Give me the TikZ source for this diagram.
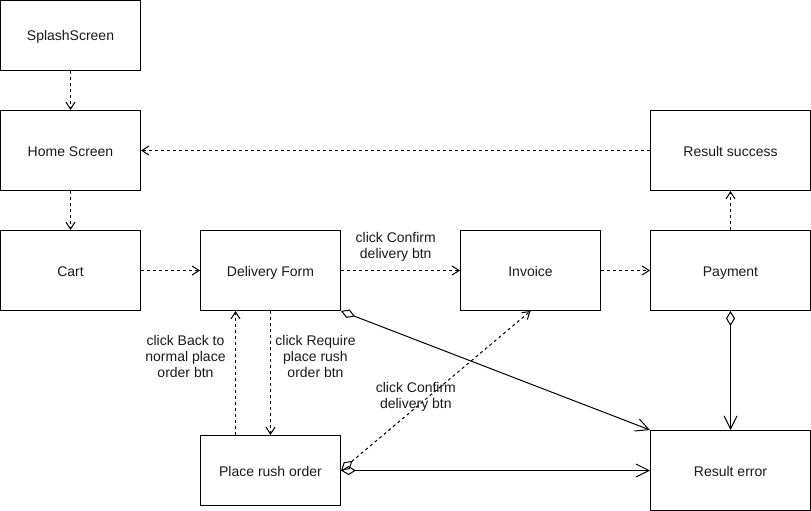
\documentclass[tikz,border=0pt]{standalone}
\usepackage{fontspec}
\setmainfont{Liberation Sans}
\usetikzlibrary{arrows.meta}
\begin{document}
\begin{tikzpicture}[x=1pt,y=-1pt,
  every node/.style={font=\fontsize{14}{16}\selectfont, text=black!90},
  box/.style={draw, line width=1pt, rectangle, inner sep=0pt, align=center, minimum width=#1,
    text height=12pt, text depth=1pt},
  box/.default=140pt,
  dep/.style={draw, line width=1pt, dash pattern=on 3pt off 3pt,
    -{Straight Barb[length=7pt,width=9pt,line width=1pt]}},
  agg/.style={draw, line width=1pt,
    {Diamond[open,length=15pt,width=9pt,line width=1pt]}-{Straight Barb[length=13pt,width=13pt,line width=1pt]}},
  aggdep/.style={draw, line width=1pt, dash pattern=on 3pt off 3pt,
    {Diamond[open,length=15pt,width=9pt,line width=1pt]}-{Straight Barb[length=7pt,width=9pt,line width=1pt]}},
  lbl/.style={align=center, inner sep=0pt}
]
\useasboundingbox (0,0) rectangle (811,511);
\node[box, minimum height=70pt] (splash) at (70.5,35.5) {SplashScreen};
\node[box, minimum height=80pt] (home) at (70.5,150.5) {Home Screen};
\node[box, minimum height=80pt] (cart) at (70.5,270.5) {Cart};
\node[box, minimum height=80pt] (delivery) at (270.5,270.5) {Delivery Form};
\node[box, minimum height=80pt] (invoice) at (530.5,270.5) {Invoice};
\node[box=160pt, minimum height=80pt] (payment) at (730.5,270.5) {Payment};
\node[box=160pt, minimum height=80pt] (success) at (730.5,150.5) {Result success};
\node[box=160pt, minimum height=80pt] (error) at (730.5,470.5) {Result error};
\node[box, minimum height=70pt] (rush) at (270.5,470.5) {Place rush order};

\draw[dep] (splash) -- (home);
\draw[dep] (success) -- (home);
\draw[dep] (home) -- (cart);
\draw[dep] (cart) -- (delivery);
\draw[dep] (delivery) -- node[lbl, pos=0.46, yshift=24pt] {click Confirm\\delivery btn} (invoice);
\draw[dep] (invoice) -- (payment);
\draw[dep] (payment) -- (success);
\draw[dep] (delivery.south) -- node[lbl, pos=0.368, xshift=45pt] {click Require\\place rush\\order btn} (rush.north);
\draw[dep] ([xshift=-35pt]rush.north) -- node[lbl, pos=0.632, xshift=-50pt] {click Back to\\normal place\\order btn} ([xshift=-35pt]delivery.south);
\draw[aggdep] (rush.east) -- node[lbl, pos=0.395, yshift=11pt] {click Confirm\\delivery btn} (invoice.south);
\draw[agg] (delivery.south east) -- (error.north west);
\draw[agg] (rush.east) -- (error.west);
\draw[agg] (payment.south) -- (error.north);
\end{tikzpicture}
\end{document}
